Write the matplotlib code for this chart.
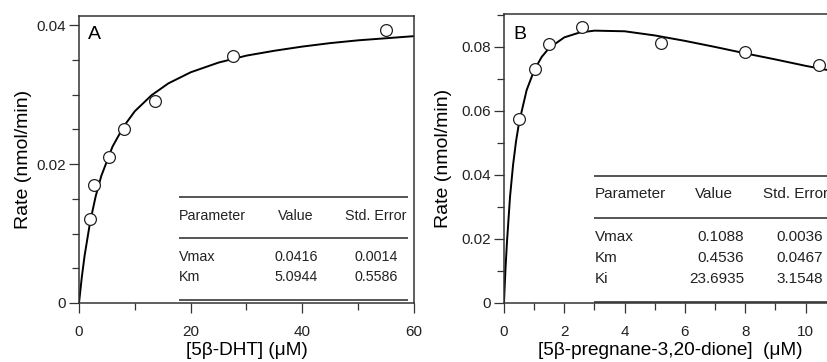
import matplotlib
matplotlib.use("Agg")
import matplotlib.pyplot as plt
from matplotlib.ticker import MultipleLocator, FuncFormatter

plt.rcParams['font.family'] = ['Liberation Sans', 'DejaVu Sans']

# panel A: 5b-DHT
a_conc = [1.97, 2.75, 5.4, 8.1, 13.55, 27.5, 54.9]
a_rate = [0.0121, 0.0170, 0.0210, 0.0251, 0.0291, 0.0355, 0.0393]
a_fit_x = [0, 0.5, 1, 2, 3, 4, 6, 8, 10, 13, 16, 20, 25, 30, 35, 40, 45, 50, 55, 60]
a_fit_y = [0, 0.0037, 0.0068, 0.0117, 0.0154, 0.0183, 0.0225, 0.0254, 0.0276, 0.0299,
           0.0316, 0.0332, 0.0346, 0.0356, 0.0363, 0.0369, 0.0374, 0.0378, 0.0381, 0.0384]
a_params = ["Vmax", "Km"]
a_values = ["0.0416", "5.0944"]
a_errors = ["0.0014", "0.5586"]

# panel B: 5b-pregnane-3,20-dione
b_conc = [0.5, 1.03, 1.5, 2.59, 5.2, 8.0, 10.44]
b_rate = [0.0575, 0.0730, 0.0808, 0.0863, 0.0813, 0.0783, 0.0745]
b_fit_x = [0, 0.02, 0.05, 0.1, 0.2, 0.3, 0.4, 0.5, 0.75, 1.0, 1.25, 1.5, 2, 2.5, 3,
           4, 5, 6, 7, 8, 9, 10, 11, 12]
b_fit_y = [0, 0.0046, 0.0108, 0.0193, 0.0332, 0.0431, 0.0506, 0.0564, 0.0665, 0.0727,
           0.0769, 0.0797, 0.0830, 0.0845, 0.0851, 0.0849, 0.0836, 0.0819, 0.0800,
           0.0780, 0.0761, 0.0741, 0.0723, 0.0705]
b_params = ["Vmax", "Km", "Ki"]
b_values = ["0.1088", "0.4536", "23.6935"]
b_errors = ["0.0036", "0.0467", "3.1548"]

W, H = 828, 362
fig = plt.figure(figsize=(W / 100, H / 100), dpi=100)
axA = fig.add_axes([79 / W, (H - 303) / H, 335 / W, 287 / H])
axB = fig.add_axes([504 / W, (H - 303) / H, 362 / W, 289 / H])

frame = '#333333'
yfmt = FuncFormatter(lambda v, p: '0' if abs(v) < 1e-9 else f'{v:.2f}')


def style(ax):
    for s in ax.spines.values():
        s.set_color(frame)
        s.set_linewidth(1.1)
    ax.tick_params(which='major', direction='out', length=7.5, width=0.9,
                   color=frame, labelsize=11, pad=2, labelcolor='#222222')
    ax.tick_params(which='minor', direction='out', length=5, width=0.9, color=frame)
    ax.tick_params(axis='x', which='major', pad=8)
    ax.yaxis.set_major_formatter(yfmt)


def draw_table(ax, xs, ys_lines, y_head, y_rows, params, values, errors, cols, aligns,
               x_end, fs):
    for yl in ys_lines:
        ax.plot([xs, x_end], [yl, yl], transform=ax.transAxes, color='#555555',
                lw=1.4, solid_capstyle='butt', clip_on=False)
    heads = ["Parameter", "Value", "Std. Error"]
    for h, cx, al in zip(heads, cols[0], aligns[0]):
        ax.text(cx, y_head, h, transform=ax.transAxes, ha=al, va='center',
                fontsize=fs, color='#222222')
    for i, yr in enumerate(y_rows):
        row = [params[i], values[i], errors[i]]
        for t, cx, al in zip(row, cols[1], aligns[1]):
            ax.text(cx, yr, t, transform=ax.transAxes, ha=al, va='center',
                    fontsize=fs, color='#222222')


# ---- panel A
axA.plot(a_fit_x, a_fit_y, color='black', lw=1.4, zorder=2)
axA.plot(a_conc, a_rate, 'o', ms=8.5, mfc='white', mec='#222222', mew=0.9, zorder=3)
axA.set_xlim(0, 60)
axA.set_ylim(0, 0.0413)
axA.xaxis.set_major_locator(MultipleLocator(20))
axA.xaxis.set_minor_locator(MultipleLocator(10))
axA.yaxis.set_major_locator(MultipleLocator(0.02))
axA.yaxis.set_minor_locator(MultipleLocator(0.005))
style(axA)
axA.text(0.027, 0.935, "A", transform=axA.transAxes, fontsize=14, va='center', ha='left')
axA.set_ylabel("Rate (nmol/min)", fontsize=14)
axA.yaxis.set_label_coords(-0.167, 0.5)
axA.yaxis.label.set_va('center')
axA.set_xlabel("[5β-DHT] (μM)", fontsize=13.7)
axA.xaxis.set_label_coords(0.5, -0.164)
axA.xaxis.label.set_va('center')
draw_table(axA, 0.2985, [0.371, 0.2265, 0.0105], 0.303, [0.160, 0.0906],
           a_params, a_values, a_errors,
           ([0.2985, 0.648, 0.8866], [0.2985, 0.648, 0.8866]),
           (['left', 'center', 'center'], ['left', 'center', 'center']), 0.982, 10.3)

# ---- panel B
axB.plot(b_fit_x, b_fit_y, color='black', lw=1.4, zorder=2)
axB.plot(b_conc, b_rate, 'o', ms=8.5, mfc='white', mec='#222222', mew=0.9, zorder=3)
axB.set_xlim(0, 12)
axB.set_ylim(0, 0.0903)
axB.set_xticks([0, 2, 4, 6, 8, 10])
axB.xaxis.set_minor_locator(MultipleLocator(1))
axB.yaxis.set_major_locator(MultipleLocator(0.02))
axB.yaxis.set_minor_locator(MultipleLocator(0.01))
style(axB)
axB.text(0.025, 0.93, "B", transform=axB.transAxes, fontsize=14, va='center', ha='left')
axB.set_ylabel("Rate (nmol/min)", fontsize=14)
axB.yaxis.set_label_coords(-0.1685, 0.5)
axB.yaxis.label.set_va('center')
axB.set_xlabel("[5β-pregnane-3,20-dione]  (μM)", fontsize=13.7)
axB.xaxis.set_label_coords(0.4586, -0.163)
axB.xaxis.label.set_va('center')
draw_table(axB, 0.2486, [0.4405, 0.293, 0.0045], 0.376, [0.2273, 0.1567, 0.0841],
           b_params, b_values, b_errors,
           ([0.2514, 0.580, 0.7155], [0.2514, 0.663, 0.7514]),
           (['left', 'center', 'left'], ['left', 'right', 'left']), 1.0, 11)

fig.savefig("out.png", dpi=100)
